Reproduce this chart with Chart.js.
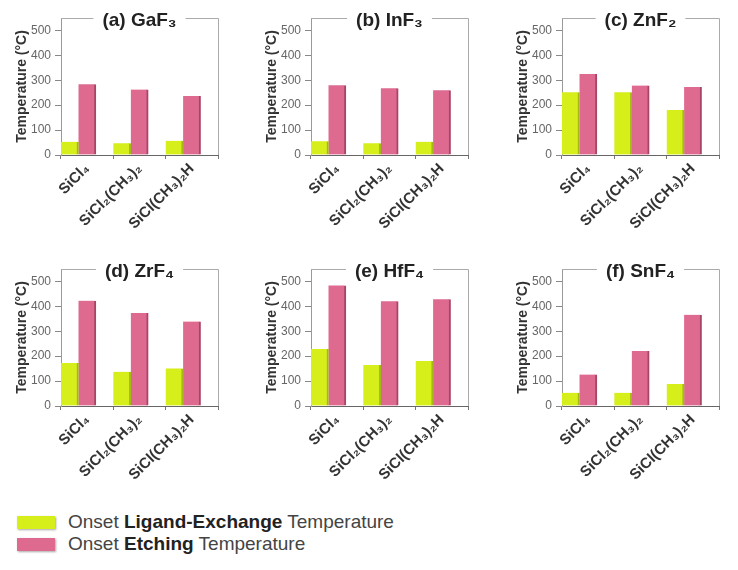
<!DOCTYPE html>
<html>
<head>
<meta charset="utf-8">
<script src="https://cdn.jsdelivr.net/npm/chart.js@4.4.0/dist/chart.umd.min.js"></script>
<style>
  body { margin: 0; background: #fff; font-family: "Liberation Sans", Arial, sans-serif; }
  #wrap { position: relative; width: 738px; height: 570px; overflow: hidden; }
  .panel { position: absolute; }
  #legend { position: absolute; left: 17px; top: 511px; color: #444; font-size: 19px; }
  .row { display: flex; align-items: center; height: 22px; }
  .sw { width: 38px; height: 13px; margin-right: 13px; box-shadow: 1px 1px 2px rgba(0,0,0,0.35); }
  .row b { color: #222; }
</style>
</head>
<body>
<div id="wrap">
  <canvas class="panel" id="c0" width="245" height="250" style="left:0;top:0"></canvas>
  <canvas class="panel" id="c1" width="245" height="250" style="left:250px;top:0"></canvas>
  <canvas class="panel" id="c2" width="245" height="250" style="left:501px;top:0"></canvas>
  <canvas class="panel" id="c3" width="245" height="250" style="left:0;top:251px"></canvas>
  <canvas class="panel" id="c4" width="245" height="250" style="left:250px;top:251px"></canvas>
  <canvas class="panel" id="c5" width="245" height="250" style="left:501px;top:251px"></canvas>
  <div id="legend">
    <div class="row"><div class="sw" style="background:#d6ee1a"></div><span>Onset <b>Ligand-Exchange</b> Temperature</span></div>
    <div class="row"><div class="sw" style="background:#de6a90"></div><span>Onset <b>Etching</b> Temperature</span></div>
  </div>
</div>
<script>
// các hợp chất (trục x)
const categories = ['SiCl₄', 'SiCl₂(CH₃)₂', 'SiCl(CH₃)₂H'];
const panelTitles = ['(a) GaF₃', '(b) InF₃', '(c) ZnF₂', '(d) ZrF₄', '(e) HfF₄', '(f) SnF₄'];
const yTicks = [0, 100, 200, 300, 400, 500];

// nhiệt độ trao đổi phối tử / nhiệt độ khắc (°C)
const gaf3Exchange = [53, 47, 57];
const gaf3Etching  = [284, 263, 237];
const inf3Exchange = [55, 47, 53];
const inf3Etching  = [280, 268, 260];
const znf2Exchange = [252, 252, 181];
const znf2Etching  = [325, 279, 273];
const zrf4Exchange = [173, 137, 151];
const zrf4Etching  = [423, 373, 339];
const hff4Exchange = [229, 165, 181];
const hff4Etching  = [484, 421, 429];
const snf4Exchange = [53, 53, 88];
const snf4Etching  = [126, 221, 366];

const exchangeSets = [gaf3Exchange, inf3Exchange, znf2Exchange, zrf4Exchange, hff4Exchange, snf4Exchange];
const etchingSets  = [gaf3Etching, inf3Etching, znf2Etching, zrf4Etching, hff4Etching, snf4Etching];

const FONT = '"Liberation Sans", Arial, sans-serif';

// vẽ khung + tiêu đề
const framePlugin = {
    id: 'frame',
    afterDraw(chart, args, opts) {
        const { ctx, chartArea: a } = chart;
        ctx.save();
        ctx.strokeStyle = '#aaa';
        ctx.lineWidth = 1;
        ctx.beginPath();
        ctx.moveTo(a.left, a.top + 0.5);
        ctx.lineTo(a.right + 0.5, a.top + 0.5);
        ctx.lineTo(a.right + 0.5, a.bottom);
        ctx.stroke();
        ctx.font = 'bold 19px ' + FONT;
        const w = ctx.measureText(opts.text).width;
        const cx = (a.left + a.right) / 2;
        ctx.fillStyle = '#fff';
        ctx.fillRect(cx - w / 2 - 9, a.top - 8, w + 18, 16);
        ctx.fillStyle = '#222';
        ctx.textAlign = 'center';
        ctx.textBaseline = 'middle';
        ctx.fillText(opts.text, cx, a.top + 3);
        ctx.restore();
    }
};

function renderPanel(i) {
    new Chart(document.getElementById('c' + i), {
        type: 'bar',
        data: {
            labels: categories,
            datasets: [{
                label: 'Onset Ligand-Exchange Temperature',
                data: exchangeSets[i],
                backgroundColor: '#d6ee1a',
                borderColor: '#a4b816',
                borderWidth: { top: 0, left: 0, bottom: 0, right: 2 }
            }, {
                label: 'Onset Etching Temperature',
                data: etchingSets[i],
                backgroundColor: '#de6a90',
                borderColor: '#a84466',
                borderWidth: { top: 0, left: 0, bottom: 0, right: 2 }
            }, {
                label: '',
                data: [null, null, null]
            }]
        },
        options: {
            responsive: false,
            animation: false,
            categoryPercentage: 1,
            barPercentage: 1,
            layout: { padding: { left: 14, top: 18, right: 27, bottom: 5 } },
            plugins: {
                legend: { display: false },
                tooltip: { enabled: false },
                frame: { text: panelTitles[i] }
            },
            scales: {
                x: {
                    afterFit: s => { s.height = 90; },
                    grid: { offset: true, drawOnChartArea: false, tickLength: 4, color: '#777' },
                    border: { color: '#666', width: 1 },
                    ticks: {
                        minRotation: 45, maxRotation: 45, padding: 1,
                        color: '#333', font: { family: FONT, size: 15, weight: 'bold' }
                    }
                },
                y: {
                    min: 0, max: 550,
                    afterFit: s => { s.width = 47; },
                    grid: { drawOnChartArea: false, tickLength: 6, color: '#888' },
                    border: { color: '#999', width: 1 },
                    afterBuildTicks: s => { s.ticks = yTicks.map(v => ({ value: v })); },
                    ticks: { color: '#666', padding: 4, font: { family: FONT, size: 12 } },
                    title: {
                        display: true, text: 'Temperature (°C)', color: '#333', padding: 0,
                        font: { family: FONT, size: 14, weight: 'bold' }
                    }
                }
            }
        },
        plugins: [framePlugin]
    });
}

for (let i = 0; i < 6; i++) renderPanel(i);
</script>
</body>
</html>
